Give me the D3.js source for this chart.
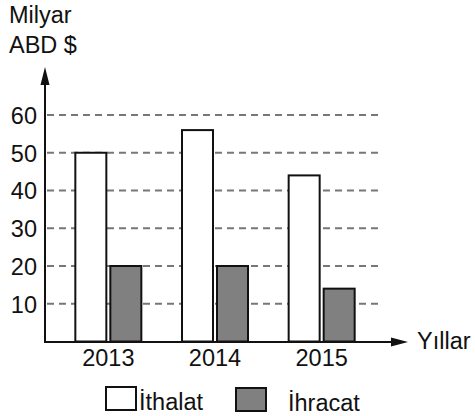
<!DOCTYPE html>
<html><head><meta charset="utf-8">
<script src="https://cdn.jsdelivr.net/npm/d3@7"></script>
<style>
body{margin:0;background:#fff;}
svg{display:block;font-family:"Liberation Sans",Arial,sans-serif;}
</style></head>
<body><svg id="c" width="475" height="416"></svg>
<script>
const years = ["2013","2014","2015"];
const series = ["İthalat","İhracat"];
const ithalat = [50, 56, 44];
const ihracat = [20, 20, 14];
const yTicks = [10,20,30,40,50,60];
const colors = {"İthalat":"#ffffff","İhracat":"#808080"};
const FS = 23.5;

const svg = d3.select("#c");
const x0 = d3.scaleBand().domain(years).range([55,375]).paddingInner(0).paddingOuter(0);
const x1 = d3.scaleBand().domain(series).range([0,66]).paddingInner(0.1143).paddingOuter(0);
const y = d3.scaleLinear().domain([0,60]).range([341.5,115]);
const data = years.map((yr,i)=>({year:yr, values:[{s:"İthalat",v:ithalat[i]},{s:"İhracat",v:ihracat[i]}]}));

// gridlines
svg.append("g").selectAll("line").data(yTicks).join("line")
  .attr("x1",47).attr("x2",379)
  .attr("y1",d=>y(d)).attr("y2",d=>y(d))
  .attr("stroke","#777").attr("stroke-width",2).attr("stroke-dasharray","7,5");

// bars
const g = svg.append("g").selectAll("g").data(data).join("g")
  .attr("transform",d=>`translate(${x0(d.year)+x0.bandwidth()/2-33},0)`);
g.selectAll("rect").data(d=>d.values).join("rect")
  .attr("x",d=>x1(d.s)).attr("width",x1.bandwidth())
  .attr("y",d=>y(d.v)).attr("height",d=>y(0)-y(d.v))
  .attr("fill",d=>colors[d.s]).attr("stroke","#111").attr("stroke-width",2);

// axes lines with arrows
svg.append("line").attr("x1",45).attr("x2",45).attr("y1",y(0)+1).attr("y2",84)
  .attr("stroke","#111").attr("stroke-width",2);
svg.append("path").attr("d","M45,67 L40.5,85 L49.5,85 Z").attr("fill","#111");
svg.append("line").attr("x1",44).attr("x2",393).attr("y1",y(0)+0.5).attr("y2",y(0)+0.5)
  .attr("stroke","#111").attr("stroke-width",2);
svg.append("path").attr("d",`M408,${y(0)+0.5} L391,${y(0)-4} L391,${y(0)+5} Z`).attr("fill","#111");

// y tick labels
const ya = svg.append("g").attr("transform","translate(37,0)")
  .call(d3.axisLeft(y).tickValues(yTicks).tickSize(0).tickPadding(0));
ya.select(".domain").remove();
ya.selectAll("text").attr("font-size",FS).attr("fill","#111")
  .attr("font-family","Liberation Sans, Arial, sans-serif").attr("dy","0.36em");

// x tick labels
const xa = svg.append("g").attr("transform",`translate(0,${y(0)})`)
  .call(d3.axisBottom(x0).tickSize(0).tickPadding(0));
xa.select(".domain").remove();
xa.selectAll("text").attr("font-size",FS).attr("fill","#111")
  .attr("font-family","Liberation Sans, Arial, sans-serif").attr("dy",null).attr("y",24);

// axis titles
svg.append("text").attr("x",9).attr("y",23).attr("font-size",FS).attr("fill","#111").text("Milyar");
svg.append("text").attr("x",9).attr("y",53).attr("font-size",FS).attr("fill","#111").text("ABD $");
svg.append("text").attr("x",417).attr("y",349).attr("font-size",FS).attr("fill","#111").text("Yıllar");

// legend
const legend = [{s:"İthalat",bx:106,by:387,tx:139,ty:410},{s:"İhracat",bx:236,by:388,tx:288,ty:411}];
legend.forEach(l=>{
  svg.append("rect").attr("x",l.bx).attr("y",l.by).attr("width",30).attr("height",23)
    .attr("fill",colors[l.s]).attr("stroke","#111").attr("stroke-width",2);
  svg.append("text").attr("x",l.tx).attr("y",l.ty).attr("font-size",FS).attr("fill","#111").text(l.s);
});
</script></body></html>
